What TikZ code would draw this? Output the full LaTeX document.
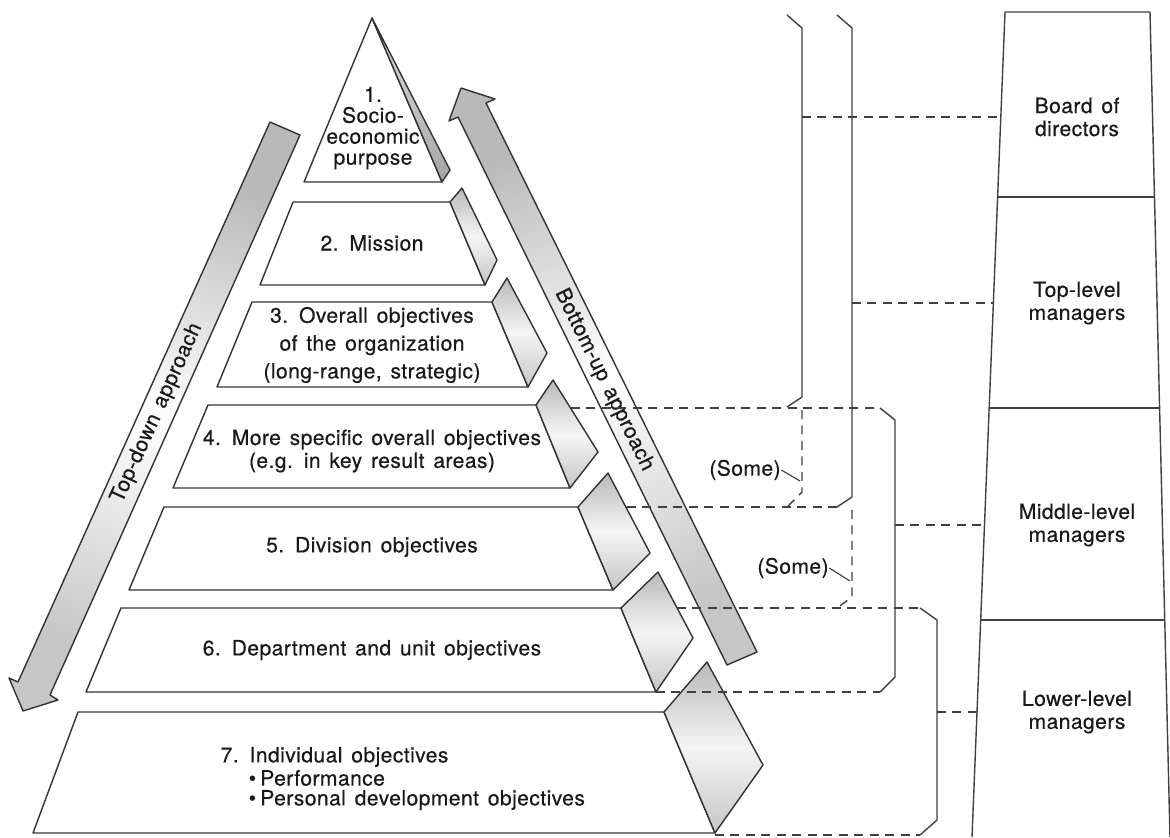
\documentclass[tikz,border=0pt]{standalone}
\usepackage{fontspec}
\setmainfont{TeX Gyre Heros}[LetterSpace = 2, WordSpace = 1.4, FakeBold = 0.4]

\begin{document}
\begin{tikzpicture}[x = 0.025cm, y = -0.025cm, line width = 1pt, line join = round,
        font = \fontsize{15}{16.3}\selectfont,
        every node/.style = {text = black!90, inner sep = 0pt},
        tier/.style = {draw = black!80, fill = white},
        sideface/.style = {draw = black!80, top color = gray!55, bottom color = gray!45, middle color = gray!8},
        apexface/.style = {draw = black!80, top color = gray!25, bottom color = gray!70},
        band/.style = {draw = black!80, top color = gray!55, bottom color = gray!45, middle color = white},
        tiertext/.style = {align = center},
        level/.style = {draw = black!75, dash pattern = on 6.4pt off 4.6pt},
        brace/.style = {draw = black!75},
        leader/.style = {draw = black!75, line width = 0.8pt}]

        \useasboundingbox (0,0) rectangle (1170,837);

        \draw [band, shading angle = -24]
        (270,122) -- (300,135) -- (50,695) -- (58,700) -- (23,711) -- (9,678) -- (18,682) -- cycle;
        \draw [band, shading angle = 26]
        (727,665) -- (757,652) -- (486,103) -- (495,99) -- (461,88) -- (449,121) -- (458,117) -- cycle;

        \draw [tier] (372,18) -- (442,182) -- (304,182) -- cycle;
        \draw [apexface] (372,18) -- (450,170) -- (442,182) -- cycle;

        \draw [tier] (293,202) -- (450,202) -- (485,285) -- (260,285) -- cycle;
        \draw [sideface] (450,202) -- (462,188) -- (497,260) -- (485,285) -- cycle;

        \draw [tier] (252,302) -- (492,302) -- (528,387) -- (217,387) -- cycle;
        \draw [sideface] (492,302) -- (507,278) -- (547,353) -- (528,387) -- cycle;

        \draw [tier] (208,405) -- (536,405) -- (570,488) -- (173,488) -- cycle;
        \draw [sideface] (536,405) -- (553,380) -- (598,452) -- (570,488) -- cycle;

        \draw [tier] (164,507) -- (578,507) -- (613,590) -- (129,590) -- cycle;
        \draw [sideface] (578,507) -- (608,473) -- (650,553) -- (613,590) -- cycle;

        \draw [tier] (121,608) -- (621,608) -- (656,692) -- (86,692) -- cycle;
        \draw [sideface] (621,608) -- (658,572) -- (693,638) -- (656,692) -- cycle;

        \draw [tier] (78,712) -- (664,712) -- (715,833) -- (33,833) -- cycle;
        \draw [sideface] (664,712) -- (707,662) -- (763,765) -- (715,833) -- cycle;

        \node [tiertext, font = \fontsize{15}{14.9}\selectfont] (t1) at (373,128) {1.\\Socio-\\economic\\purpose};
        \node [tiertext] (t2) at (372,243) {2. Mission};
        \node [tiertext, font = \fontsize{15}{19.8}\selectfont] (t3) at (372,345)
        {3. Overall objectives\\of the organization\\(long-range, strategic)};
        \node [tiertext] (t4) at (372,451) {4. More specific overall objectives\\(e.g. in key result areas)};
        \node [tiertext] (t5) at (372,547) {5. Division objectives};
        \node [tiertext] (t6) at (372,650) {6. Department and unit objectives};
        \node [anchor = west] (t7) at (220,757) {7. Individual objectives};
        \node [anchor = west] (t7a) at (248,778) {\textbullet\kern3pt Performance};
        \node [anchor = west] (t7b) at (248,800) {\textbullet\kern3pt Personal development objectives};

        \node [rotate = 65.8] (topdown) at (157,413) {Top-down approach};
        \node [rotate = -63.8] (bottomup) at (604,380) {Bottom-up approach};

        \draw [level] (571,408) -- (880,408);
        \draw [level] (627,507) -- (837,507);
        \draw [level] (677,608) -- (920,608);
        \draw [level] (656,692) -- (880,692);
        \draw [level] (715,835) -- (920,835);

        \draw [brace] (787,15) -- (802,28) -- (802,397) -- (787,407);
        \draw [level] (802,410) -- (802,492) -- (787,507);
        \draw [brace] (837,15) -- (852,28) -- (852,497) -- (837,507);
        \draw [level] (852,510) -- (852,597) -- (837,608);
        \draw [brace] (880,408) -- (895,420) -- (895,677) -- (880,692);
        \draw [brace] (920,608) -- (937,620) -- (937,820) -- (920,835);

        \node (someA) at (745,470) {(Some)};
        \node (someB) at (793,568) {(Some)};
        \coordinate (tipA) at (800,481);
        \coordinate (tipB) at (850,581);
        \draw [leader] (someA.east) -- (tipA);
        \draw [leader] (someB.east) -- (tipB);

        \draw [brace] (972,837) -- (1005,12) -- (1150,12) -- (1170,837);
        \draw [brace] (997.6,197) -- (1154.5,197);
        \draw [brace] (989.2,408) -- (1159.6,408);
        \draw [brace] (980.7,620) -- (1164.7,620);

        \node [tiertext] (board) at (1077,117) {Board of\\directors};
        \node [tiertext] (toplevel) at (1077,303) {Top-level\\managers};
        \node [tiertext] (midlevel) at (1077,525) {Middle-level\\managers};
        \node [tiertext] (lowlevel) at (1077,712) {Lower-level\\managers};

        \coordinate (tapA) at (802,117);
        \coordinate (tapB) at (852,303);
        \coordinate (tapC) at (895,525);
        \coordinate (tapD) at (937,712);
        \coordinate (inBoard) at (1000.8,117);
        \coordinate (inTop) at (993.4,303);
        \coordinate (inMid) at (984.5,525);
        \coordinate (inLow) at (977,712);
        \draw [level] (tapA) -- (inBoard);
        \draw [level] (tapB) -- (inTop);
        \draw [level] (tapC) -- (inMid);
        \draw [level] (tapD) -- (inLow);
    \end{tikzpicture}
\end{document}
